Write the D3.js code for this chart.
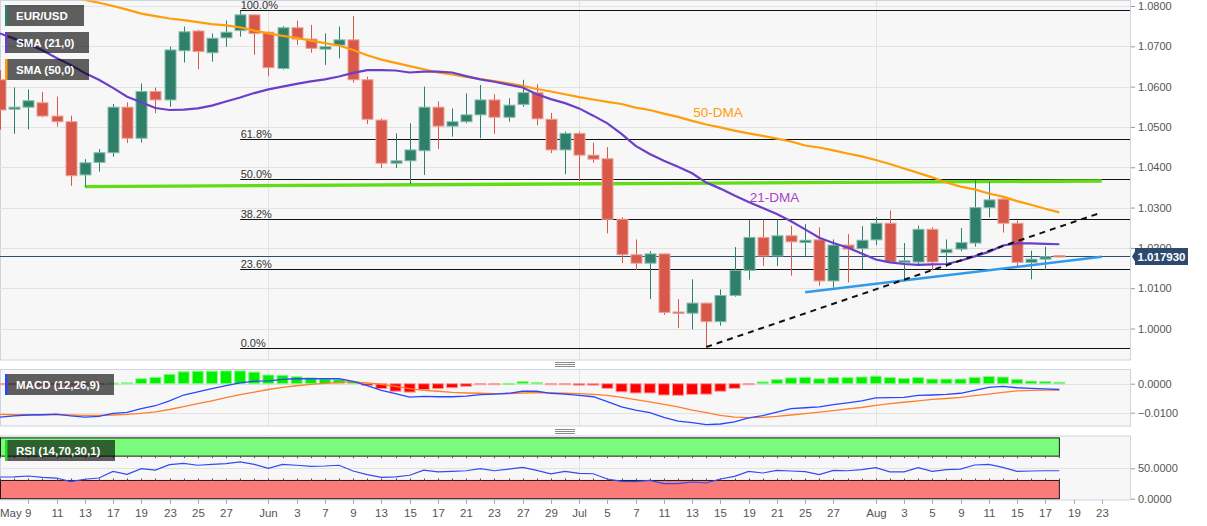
<!DOCTYPE html>
<html><head><meta charset="utf-8">
<script src="https://cdn.jsdelivr.net/npm/d3@7/dist/d3.min.js"></script>
<style>
body{margin:0;background:#fff;}
svg{display:block;font-family:"Liberation Sans",Arial,sans-serif;}
</style></head>
<body><svg id="c" width="1207" height="526"></svg>
<script>
// ---------- DATA ----------
const dates = ["5/5","5/6","5/9","5/10","5/11","5/12","5/13","5/16","5/17","5/18","5/19","5/20","5/23","5/24","5/25","5/26","5/27","5/30","5/31",
"6/1","6/2","6/3","6/6","6/7","6/8","6/9","6/10","6/13","6/14","6/15","6/16","6/17","6/20","6/21","6/22","6/23","6/24","6/27","6/28","6/29","6/30",
"7/1","7/4","7/5","7/6","7/7","7/8","7/11","7/12","7/13","7/14","7/15","7/18","7/19","7/20","7/21","7/22","7/25","7/26","7/27","7/28","7/29",
"8/1","8/2","8/3","8/4","8/5","8/8","8/9","8/10","8/11","8/12","8/15","8/16","8/17","8/18"];
const futureDates = ["8/19","8/22","8/23","8/24","8/25"];

const open  = [1.0617,1.0544,1.0549,1.0560,1.0527,1.0513,1.0381,1.0412,1.0436,1.0549,1.0472,1.0588,1.0567,1.0689,1.0738,1.0684,1.0721,1.0739,1.0778,
1.0735,1.0645,1.0746,1.0718,1.0693,1.0703,1.0716,1.0617,1.0517,1.0410,1.0416,1.0441,1.0549,1.0502,1.0513,1.0530,1.0567,1.0524,1.0556,1.0585,1.0519,1.0443,
1.0484,1.0430,1.0421,1.0271,1.0183,1.0162,1.0185,1.0041,1.0038,1.0063,1.0017,1.0082,1.0144,1.0226,1.0180,1.0230,1.0213,1.0220,1.0118,1.0207,1.0198,
1.0220,1.0261,1.0164,1.0165,1.0246,1.0188,1.0197,1.0212,1.0300,1.0321,1.0261,1.0164,1.0172,1.0181];
const high  = [1.0641,1.0598,1.0593,1.0587,1.0575,1.0528,1.0420,1.0445,1.0557,1.0561,1.0608,1.0598,1.0699,1.0749,1.0741,1.0732,1.0764,1.0788,1.0779,
1.0737,1.0750,1.0764,1.0753,1.0732,1.0749,1.0775,1.0625,1.0521,1.0484,1.0509,1.0600,1.0563,1.0546,1.0583,1.0604,1.0581,1.0571,1.0617,1.0606,1.0535,1.0488,
1.0488,1.0461,1.0450,1.0276,1.0221,1.0192,1.0186,1.0073,1.0122,1.0064,1.0097,1.0202,1.0269,1.0271,1.0271,1.0255,1.0259,1.0251,1.0221,1.0234,1.0254,
1.0276,1.0293,1.0212,1.0255,1.0251,1.0221,1.0249,1.0368,1.0364,1.0327,1.0268,1.0193,1.0203,1.0182];
const low   = [1.0493,1.0483,1.0494,1.0524,1.0501,1.0354,1.0352,1.0389,1.0426,1.0460,1.0461,1.0534,1.0550,1.0660,1.0643,1.0662,1.0699,1.0724,1.0679,
1.0626,1.0642,1.0703,1.0684,1.0654,1.0670,1.0610,1.0507,1.0398,1.0398,1.0359,1.0381,1.0445,1.0476,1.0509,1.0472,1.0483,1.0513,1.0550,1.0504,1.0435,1.0383,
1.0366,1.0411,1.0236,1.0162,1.0145,1.0073,1.0034,1.0001,0.9998,0.9955,1.0007,1.0079,1.0121,1.0155,1.0155,1.0131,1.0180,1.0106,1.0102,1.0114,1.0147,
1.0207,1.0164,1.0122,1.0155,1.0144,1.0152,1.0191,1.0203,1.0276,1.0238,1.0155,1.0122,1.0145,1.0177];
const close = [1.0542,1.0549,1.0565,1.0527,1.0513,1.0379,1.0411,1.0436,1.0549,1.0472,1.0588,1.0567,1.0691,1.0736,1.0687,1.0720,1.0735,1.0778,1.0732,
1.0647,1.0746,1.0718,1.0695,1.0699,1.0716,1.0617,1.0519,1.0410,1.0416,1.0443,1.0549,1.0502,1.0513,1.0530,1.0567,1.0524,1.0554,1.0585,1.0520,1.0443,1.0484,
1.0430,1.0420,1.0271,1.0183,1.0162,1.0185,1.0040,1.0038,1.0063,1.0017,1.0082,1.0144,1.0226,1.0180,1.0230,1.0215,1.0219,1.0118,1.0207,1.0197,1.0219,
1.0261,1.0165,1.0168,1.0246,1.0165,1.0196,1.0213,1.0300,1.0319,1.0261,1.0164,1.0172,1.0178,1.01793];

const sma21 = [1.0732,1.0719,1.0706,1.0690,1.0671,1.0654,1.0634,1.0617,1.0597,1.0575,1.0561,1.0547,1.0542,1.0543,1.0546,1.0553,1.0563,1.0573,1.0584,
1.0593,1.0600,1.0607,1.0613,1.0618,1.0625,1.0634,1.0641,1.0641,1.0640,1.0635,1.0637,1.0637,1.0635,1.0626,1.0618,1.0612,1.0605,1.0598,1.0581,1.0569,1.0559,
1.0546,1.0528,1.0509,1.0483,1.0453,1.0433,1.0416,1.0401,1.0385,1.0362,1.0347,1.0330,1.0314,1.0299,1.0284,1.0266,1.0246,1.0225,1.0212,1.0201,1.0186,
1.0171,1.0164,1.0160,1.0158,1.0159,1.0160,1.0168,1.0179,1.0190,1.0206,1.0211,1.0211,1.0210,1.0209];
const sma50 = [1.0869,1.0860,1.0850,1.0840,1.0830,1.0822,1.0815,1.0808,1.0800,1.0791,1.0781,1.0775,1.0769,1.0765,1.0760,1.0755,1.0752,1.0747,1.0739,
1.0732,1.0726,1.0721,1.0714,1.0708,1.0702,1.0691,1.0678,1.0667,1.0659,1.0651,1.0643,1.0635,1.0630,1.0624,1.0619,1.0614,1.0608,1.0602,1.0594,1.0588,1.0581,
1.0574,1.0568,1.0562,1.0557,1.0548,1.0542,1.0533,1.0525,1.0515,1.0506,1.0499,1.0491,1.0484,1.0478,1.0471,1.0464,1.0454,1.0449,1.0442,1.0434,1.0427,
1.0418,1.0408,1.0397,1.0386,1.0375,1.0362,1.0352,1.0345,1.0335,1.0327,1.0316,1.0307,1.0297,1.0288];

const macdLine = [-0.0115,-0.0111,-0.0108,-0.0107,-0.0105,-0.0111,-0.0115,-0.0113,-0.0102,-0.0099,-0.0086,-0.0076,-0.0059,-0.0039,-0.0028,-0.0017,-0.0007,0.0003,0.0009,
0.0010,0.0015,0.0017,0.0017,0.0017,0.0017,0.0008,-0.0007,-0.0023,-0.0034,-0.0046,-0.0044,-0.0045,-0.0045,-0.0043,-0.0038,-0.0036,-0.0033,-0.0026,-0.0026,-0.0033,-0.0036,
-0.0040,-0.0045,-0.0062,-0.0080,-0.0091,-0.0100,-0.0116,-0.0129,-0.0134,-0.0141,-0.0139,-0.0132,-0.0118,-0.0110,-0.0098,-0.0086,-0.0083,-0.0080,-0.0072,-0.0066,-0.0059,
-0.0049,-0.0048,-0.0047,-0.0040,-0.0039,-0.0037,-0.0033,-0.0023,-0.0013,-0.0009,-0.0014,-0.0016,-0.0018,-0.0020];
const signalLine = [-0.0106,-0.0107,-0.0107,-0.0107,-0.0107,-0.0108,-0.0109,-0.0109,-0.0108,-0.0106,-0.0102,-0.0097,-0.0089,-0.0079,-0.0069,-0.0059,-0.0048,-0.0038,-0.0029,
-0.0020,-0.0013,-0.0007,-0.0002,0.0001,0.0005,0.0006,0.0003,-0.0002,-0.0009,-0.0017,-0.0023,-0.0026,-0.0030,-0.0032,-0.0033,-0.0034,-0.0034,-0.0032,-0.0031,-0.0032,-0.0033,
-0.0034,-0.0037,-0.0040,-0.0047,-0.0055,-0.0063,-0.0071,-0.0080,-0.0091,-0.0100,-0.0109,-0.0115,-0.0117,-0.0116,-0.0113,-0.0108,-0.0103,-0.0098,-0.0093,-0.0087,-0.0082,
-0.0075,-0.0069,-0.0064,-0.0059,-0.0054,-0.0051,-0.0047,-0.0041,-0.0036,-0.0030,-0.0025,-0.0023,-0.0022,-0.0022];
const macdHist = [-0.0003,-0.0002,-0.0002,-0.0002,-0.0002,-0.0002,-0.0003,-0.0002,0.0002,0.0003,0.0017,0.0022,0.0032,0.0041,0.0043,0.0043,0.0044,0.0044,0.0040,
0.0030,0.0029,0.0024,0.0020,0.0016,0.0014,0.0008,-0.0006,-0.0017,-0.0026,-0.0029,-0.0020,-0.0017,-0.0014,-0.0009,-0.0003,-0.0002,0.0001,0.0007,0.0004,-0.0002,-0.0002,
-0.0005,-0.0005,-0.0016,-0.0028,-0.0032,-0.0032,-0.0039,-0.0040,-0.0037,-0.0036,-0.0026,-0.0016,-0.0003,0.0006,0.0014,0.0020,0.0022,0.0017,0.0021,0.0021,0.0023,
0.0026,0.0021,0.0018,0.0021,0.0016,0.0016,0.0016,0.0022,0.0025,0.0023,0.0015,0.0009,0.0007,0.0005];

const rsi = [35.7,36,37.3,35,34,28,32,34,45,40,49.4,47,56,58,55,56.5,57.6,60.4,56.5,
50,56.5,55,53.3,53.8,55,45.6,39.5,35.2,36,38.6,47,44,45,46,49.4,46,48.8,51.6,46.7,41,45,
41.7,41,32.4,28.6,28,30.2,24.7,24.7,27.5,25.8,32.4,36.8,45,42.3,46.7,45.6,44.4,39.5,46.7,46,47.7,
51,44,44,51,45,47.7,48.8,55.4,56.5,51.6,45,45.6,46,46];

const priceTicks = [1.08,1.07,1.06,1.05,1.04,1.03,1.02,1.01,1.00];
const macdTicks = [0,-0.01];
const rsiTicks = [0,50];
const monthStarts = ["6/1","7/1","8/1"];
const tickDates = ["5/9","5/11","5/13","5/17","5/19","5/23","5/25","5/27","6/1","6/3","6/7","6/9","6/13","6/15","6/17","6/21","6/23","6/27","6/29",
"7/1","7/5","7/7","7/11","7/13","7/15","7/19","7/21","7/25","7/27","8/1","8/3","8/5","8/9","8/11","8/15","8/17","8/19","8/23"];
const monthNames = {"5":"May","6":"Jun","7":"Jul","8":"Aug"};

const fibLevels = [0,0.236,0.382,0.5,0.618,1];
const fibLow = 0.9951, fibHigh = 1.0789, fibStart = "5/30";
const lastPrice = 1.017930;
const supportLine = {d0:"5/13", p0:1.0352, d1:"8/23", p1:1.0366};   // green
const dashedTrend = {d0:"7/14", p0:0.9954, d1:"8/23", p1:1.0288};   // black dashed
const blueTrend   = {d0:"7/25", p0:1.0090, d1:"8/23", p1:1.0178};   // blue
const dmaLabels = [{t:"50-DMA", d:"7/13", p:1.0525, c:"#ff9d0a"},{t:"21-DMA", d:"7/19", p:1.0313, c:"#a945c4"}];

// ---------- LAYOUT ----------
const W = 1130;
const svg = d3.select("#c");
const allDates = dates.concat(futureDates);
const x = d3.scalePoint().domain(allDates).range([0, W]);
const yP = d3.scaleLinear().domain([1.0, 1.08]).range([328.5, 6]);
const yM = d3.scaleLinear().domain([-0.01, 0]).range([412.7, 383.7]);
const yR = d3.scaleLinear().domain([0, 50]).range([498.7, 468.3]);
const panels = [{id:"p0",top:0.5,bottom:360},{id:"p1",top:369.5,bottom:426},{id:"p2",top:436,bottom:500}];

const defs = svg.append("defs");
panels.forEach(p=>{
  defs.append("clipPath").attr("id","clip"+p.id).append("rect")
    .attr("x",0).attr("y",p.top).attr("width",W).attr("height",p.bottom-p.top);
  svg.append("rect").attr("x",0.5).attr("y",p.top).attr("width",W).attr("height",p.bottom-p.top)
    .attr("fill","#f7f7f7").attr("stroke","#cdd3e0").attr("stroke-width",1);
});

// handles
[364,431].forEach(cy=>{
  [-2,0,2].forEach(o=>svg.append("line").attr("x1",555).attr("x2",575).attr("y1",cy+o+0.5).attr("y2",cy+o+0.5)
    .attr("stroke","#8a8a8a").attr("stroke-width",1));
});

const g0 = svg.append("g").attr("clip-path","url(#clipp0)");
const g1 = svg.append("g").attr("clip-path","url(#clipp1)");
const g2 = svg.append("g").attr("clip-path","url(#clipp2)");

const grid = "#e2e2e2";
// grids
priceTicks.forEach(t=>g0.append("line").attr("x1",0).attr("x2",W).attr("y1",Math.round(yP(t))+0.5).attr("y2",Math.round(yP(t))+0.5).attr("stroke",grid));
macdTicks.forEach(t=>g1.append("line").attr("x1",0).attr("x2",W).attr("y1",Math.round(yM(t))+0.5).attr("y2",Math.round(yM(t))+0.5).attr("stroke",grid));
g2.append("line").attr("x1",0).attr("x2",W).attr("y1",Math.round(yR(50))+0.5).attr("y2",Math.round(yR(50))+0.5).attr("stroke",grid);
[[g0,0,360],[g1,369.5,426],[g2,436,500]].forEach(([g,t,b])=>{
  monthStarts.forEach(m=>g.append("line").attr("x1",Math.round(x(m))+0.5).attr("x2",Math.round(x(m))+0.5).attr("y1",t).attr("y2",b).attr("stroke",grid));
});

// fib retracement
fibLevels.forEach(l=>{
  const p = fibLow + (fibHigh-fibLow)*l;
  const yy = Math.round(yP(p))+0.5;
  g0.append("line").attr("x1",x(fibStart)).attr("x2",W).attr("y1",yy).attr("y2",yy).attr("stroke","#111").attr("stroke-width",1.2);
  svg.append("text").attr("x",x(fibStart)+0.5).attr("y",yy-2).text((l*100).toFixed(1)+"%")
    .attr("font-size",11).attr("fill","#333");
});

// green support/resistance
g0.append("line").attr("x1",x(supportLine.d0)).attr("y1",yP(supportLine.p0)).attr("x2",x(supportLine.d1)).attr("y2",yP(supportLine.p1))
  .attr("stroke","#62dc16").attr("stroke-width",3.4);

// current price line
const yl = Math.round(yP(lastPrice))+0.5;
g0.append("line").attr("x1",0).attr("x2",W).attr("y1",yl).attr("y2",yl).attr("stroke","#2d4d75").attr("stroke-width",1);

// candles
const upC="#2f806b", dnC="#d85849", upS="#86bbab", dnS="#eaa198";
const bw = 11;
dates.forEach((d,i)=>{
  const o=open[i],c=close[i],h=high[i],l=low[i];
  const up = c>=o;
  const cx = Math.round(x(d))+0.5;
  g0.append("line").attr("x1",cx).attr("x2",cx).attr("y1",yP(h)).attr("y2",yP(l)).attr("stroke",up?upC:dnC).attr("stroke-width",1);
  const yt = yP(Math.max(o,c)), yb = yP(Math.min(o,c));
  g0.append("rect").attr("x",cx-bw/2).attr("y",yt).attr("width",bw).attr("height",Math.max(1.5,yb-yt))
    .attr("fill",up?upC:dnC).attr("stroke",up?upS:dnS).attr("stroke-width",1);
});

// SMAs
const line = d3.line().x((d,i)=>x(dates[i])).y(d=>yP(d));
g0.append("path").datum(sma50).attr("d",line).attr("fill","none").attr("stroke","#ff9d0a").attr("stroke-width",2.2);
g0.append("path").datum(sma21).attr("d",line).attr("fill","none").attr("stroke","#6b3fc9").attr("stroke-width",2.2);

// trend lines
g0.append("line").attr("x1",x(blueTrend.d0)).attr("y1",yP(blueTrend.p0)).attr("x2",x(blueTrend.d1)).attr("y2",yP(blueTrend.p1))
  .attr("stroke","#2f9bea").attr("stroke-width",2.4);
g0.append("line").attr("x1",x(dashedTrend.d0)).attr("y1",yP(dashedTrend.p0)).attr("x2",x(dashedTrend.d1)).attr("y2",yP(dashedTrend.p1))
  .attr("stroke","#111").attr("stroke-width",2).attr("stroke-dasharray","6,5");

// DMA labels
dmaLabels.forEach(a=>g0.append("text").attr("x",x(a.d)+1).attr("y",yP(a.p)).text(a.t).attr("font-size",13.5).attr("fill",a.c));

// MACD
dates.forEach((d,i)=>{
  const v = macdHist[i];
  const y0 = yM(0), y1 = yM(v);
  const pos = v>=0;
  g1.append("rect").attr("x",x(d)-bw/2).attr("y",Math.min(y0,y1)).attr("width",bw).attr("height",Math.max(1,Math.abs(y1-y0)))
    .attr("fill",pos?"#00f000":"#ff0000").attr("stroke",pos?"#8cf58c":"#ff9c9c").attr("stroke-width",1);
});
const lineM = d3.line().x((d,i)=>x(dates[i])).y(d=>yM(d));
g1.append("path").datum(signalLine).attr("d",lineM).attr("fill","none").attr("stroke","#ff7f2a").attr("stroke-width",1.3);
g1.append("path").datum(macdLine).attr("d",lineM).attr("fill","none").attr("stroke","#2a46ff").attr("stroke-width",1.3);

// RSI
const xEnd = x(dates[dates.length-1]);
g2.append("rect").attr("x",0.5).attr("y",yR(100)).attr("width",xEnd-0.5).attr("height",yR(70)-yR(100))
  .attr("fill","#7bfb7b").attr("stroke","#1a1a1a").attr("stroke-width",1);
g2.append("rect").attr("x",0.5).attr("y",yR(30)).attr("width",xEnd-0.5).attr("height",yR(0)-yR(30))
  .attr("fill","#fb7b7b").attr("stroke","#1a1a1a").attr("stroke-width",1);
dates.forEach(d=>{
  const cx = Math.round(x(d))+0.5;
  g2.append("line").attr("x1",cx).attr("x2",cx).attr("y1",yR(70)).attr("y2",yR(70)+2).attr("stroke","#555");
  g2.append("line").attr("x1",cx).attr("x2",cx).attr("y1",yR(30)-2).attr("y2",yR(30)).attr("stroke","#555");
});
const lineR = d3.line().x((d,i)=>x(dates[i])).y(d=>yR(d));
g2.append("path").datum(rsi).attr("d",lineR).attr("fill","none").attr("stroke","#2f4cf5").attr("stroke-width",1.2);

// legend boxes
const boxes = [
  {t:"EUR/USD", x:5, y:5, w:79, h:21, c:"#2f806b"},
  {t:"SMA (21,0)", x:5, y:32, w:84, h:21, c:"#6b3fc9"},
  {t:"SMA (50,0)", x:5, y:59, w:84, h:21, c:"#ff9d0a"},
  {t:"MACD (12,26,9)", x:5, y:374, w:109, h:21, c:"#2a46ff"},
  {t:"RSI (14,70,30,1)", x:5, y:440, w:110, h:21, c:"#22dd22"}
];
boxes.forEach(b=>{
  svg.append("rect").attr("x",b.x).attr("y",b.y).attr("width",b.w).attr("height",b.h).attr("fill","rgba(0,0,0,0.62)");
  svg.append("rect").attr("x",b.x).attr("y",b.y).attr("width",2.5).attr("height",b.h).attr("fill",b.c);
  svg.append("text").attr("x",b.x+11).attr("y",b.y+b.h/2+4).text(b.t).attr("font-size",11.5).attr("font-weight","bold").attr("fill","#fff");
});

// right axes
function rAxis(scale, ticks){
  const ax = svg.append("g").attr("transform",`translate(${W+1},0)`)
    .call(d3.axisRight(scale).tickValues(ticks).tickFormat(d3.format(".4f")).tickSize(4).tickPadding(3));
  ax.select(".domain").remove();
  ax.selectAll("line").attr("stroke","#999");
  ax.selectAll("text").attr("fill","#555").attr("font-size",11).attr("font-family","Liberation Sans, Arial, sans-serif");
}
rAxis(yP, priceTicks);
rAxis(yM, macdTicks);
rAxis(yR, rsiTicks);

// last price marker
const lp = svg.append("g");
lp.append("path").attr("d",`M${W+2},${yl} L${W+5},${yl-5} L${W+5},${yl-8.5} L${W+58},${yl-8.5} L${W+58},${yl+8.5} L${W+5},${yl+8.5} L${W+5},${yl+5} Z`)
  .attr("fill","#2c4a6e");
lp.append("text").attr("x",W+31.5).attr("y",yl+4).attr("text-anchor","middle").text(lastPrice.toFixed(6))
  .attr("font-size",11.5).attr("font-weight","bold").attr("fill","#fff");

// x axis
tickDates.forEach((d,k)=>{
  const cx = Math.round(x(d))+0.5;
  svg.append("line").attr("x1",cx).attr("x2",cx).attr("y1",500).attr("y2",504).attr("stroke","#aaa");
  const [m,day] = d.split("/");
  let label = day==="1" ? monthNames[m] : day;
  if(k===0) label = monthNames[m]+" "+day;
  const t = svg.append("text").attr("y",517).text(label).attr("font-size",11.5).attr("fill","#555");
  if(k===0) t.attr("x",0).attr("text-anchor","start");
  else t.attr("x",cx).attr("text-anchor","middle");
});
</script>
</body></html>
